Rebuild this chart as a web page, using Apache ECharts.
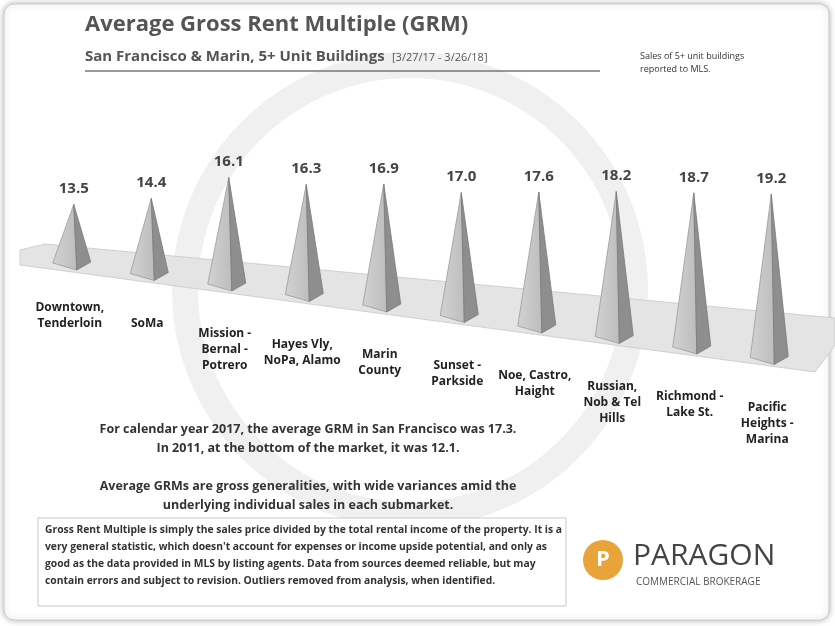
<!DOCTYPE html>
<html><head><meta charset="utf-8">
<script src="https://cdn.jsdelivr.net/npm/echarts@6/dist/echarts.min.js"></script>
<style>html,body{margin:0;background:#fff}#c{width:835px;height:626px}</style>
</head><body><div id="c"></div>
<script>
var categories = ['Downtown,\nTenderloin', 'SoMa', 'Mission -\nBernal -\nPotrero', 'Hayes Vly,\nNoPa, Alamo',
  'Marin\nCounty', 'Sunset -\nParkside', 'Noe, Castro,\nHaight', 'Russian,\nNob & Tel\nHills', 'Richmond -\nLake St.', 'Pacific\nHeights -\nMarina'];
var grm = [13.5, 14.4, 16.1, 16.3, 16.9, 17.0, 17.6, 18.2, 18.7, 19.2];

var chart = echarts.init(document.getElementById('c'));
var font = 'Open Sans';
var slant = 10.5;

function renderPyramid(params, api) {
  var i = api.value(0);
  var base = api.coord([i, 10.2]);
  var top = api.coord([i, api.value(1)]);
  var by = base[1] + i * slant;
  var ty = top[1] + i * slant;
  var cx = base[0], w = 21;
  return {
    type: 'group',
    children: [
      { type: 'polygon', shape: { points: [[cx, ty], [cx - w, by - 2], [cx + 3, by + 5]] },
        style: { fill: new echarts.graphic.LinearGradient(0, 0, 1, 0, [{ offset: 0, color: '#d2d2d2' }, { offset: 1, color: '#bdbdbd' }]), stroke: '#9a9a9a', lineWidth: 0.8 } },
      { type: 'polygon', shape: { points: [[cx, ty], [cx + 3, by + 5], [cx + w - 4, by - 3]] },
        style: { fill: '#8e8e8e', stroke: '#7a7a7a', lineWidth: 0.8 } },
      { type: 'text', style: { x: cx, y: ty - 8, text: api.value(1).toFixed(1), align: 'center', verticalAlign: 'bottom',
        font: 'bold 15px ' + font, fill: '#444' } },
      { type: 'text', style: { x: cx - 4, y: by + 40 + (i === 0 ? -5 : 0), text: categories[i], align: 'center', verticalAlign: 'top',
        font: 'bold 12px ' + font, fill: '#222', lineHeight: 16 } }
    ]
  };
}

chart.setOption({
  animation: false,
  grid: { left: 35, right: 25, top: 85, bottom: 361 },
  xAxis: { type: 'category', data: categories, show: false },
  yAxis: { type: 'value', min: 10.2, max: 20, show: false },
  graphic: [
    { type: 'rect', shape: { x: 4, y: 4, width: 825, height: 616, r: 10 }, style: { fill: '#fff', stroke: '#ccc', lineWidth: 1, shadowBlur: 6, shadowColor: 'rgba(0,0,0,0.3)' }, z: -10 },
    { type: 'circle', shape: { cx: 410, cy: 290, r: 225 }, style: { fill: 'none', stroke: '#f0f0f0', lineWidth: 26 }, z: -5 },
    { type: 'text', style: { x: 85, y: 14, text: 'Average Gross Rent Multiple (GRM)', font: 'bold 22px ' + font, fill: '#555' } },
    { type: 'text', style: { x: 85, y: 49, text: 'San Francisco & Marin, 5+ Unit Buildings', font: 'bold 15px ' + font, fill: '#555' } },
    { type: 'text', style: { x: 392, y: 52, text: '[3/27/17 - 3/26/18]', font: '11px ' + font, fill: '#555' } },
    { type: 'line', shape: { x1: 85, y1: 71, x2: 600, y2: 71 }, style: { stroke: '#777', lineWidth: 1.5 } },
    { type: 'text', style: { x: 640, y: 50, text: 'Sales of 5+ unit buildings\nreported to MLS.', font: '9px ' + font, fill: '#333', lineHeight: 13 } },
    { type: 'polygon', shape: { points: [[20, 250], [45, 244], [835, 318], [835, 345], [815, 372], [20, 265]] },
      style: { fill: '#e4e4e4', stroke: '#c8c8c8', lineWidth: 0.8 }, z: -1 },
    { type: 'text', style: { x: 308, y: 420, text: 'For calendar year 2017, the average GRM in San Francisco was 17.3.\nIn 2011, at the bottom of the market, it was 12.1.\n\nAverage GRMs are gross generalities, with wide variances amid the\nunderlying individual sales in each submarket.',
      align: 'center', font: 'bold 12.5px ' + font, fill: '#333', lineHeight: 19 } },
    { type: 'rect', shape: { x: 38, y: 518, width: 528, height: 88 }, style: { fill: '#fff', stroke: '#bbb', lineWidth: 0.8 } },
    { type: 'text', style: { x: 45, y: 522, text: 'Gross Rent Multiple is simply the sales price divided by the total rental income of the property. It is a\nvery general statistic, which doesn\'t account for expenses or income upside potential, and only as\ngood as the data provided in MLS by listing agents. Data from sources deemed reliable, but may\ncontain errors and subject to revision. Outliers removed from analysis, when identified.',
      font: 'bold 10.3px ' + font, fill: '#333', lineHeight: 17 } },
    { type: 'circle', shape: { cx: 603, cy: 560, r: 20 }, style: { fill: '#e8a33a' } },
    { type: 'text', style: { x: 603, y: 560, text: 'P', align: 'center', verticalAlign: 'middle', font: 'bold 22px ' + font, fill: '#fff' } },
    { type: 'text', style: { x: 633, y: 541, text: 'PARAGON', font: '30px ' + font, fill: '#444' } },
    { type: 'text', style: { x: 636, y: 577, text: 'COMMERCIAL BROKERAGE', font: '10px ' + font, fill: '#555' } }
  ],
  series: [{
    type: 'custom',
    renderItem: renderPyramid,
    data: grm.map(function (v, i) { return [i, v]; })
  }]
});
</script></body></html>
